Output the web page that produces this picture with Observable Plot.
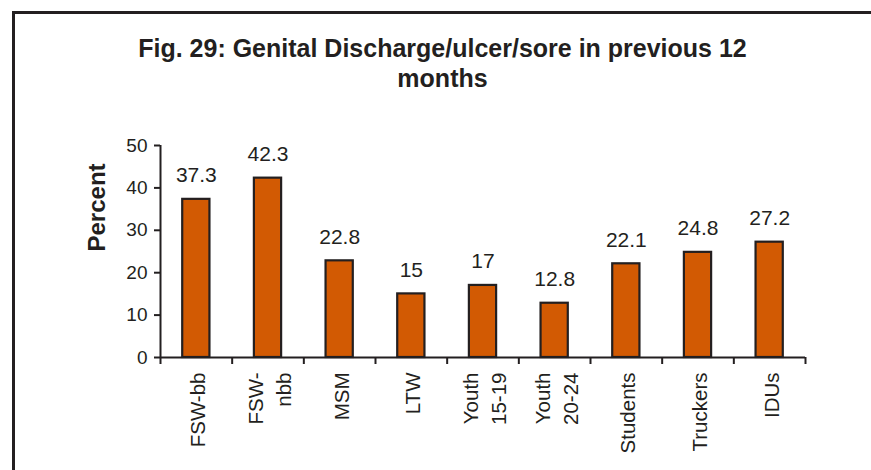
<!DOCTYPE html>
<html>
<head>
<meta charset="utf-8">
<script src="https://cdn.jsdelivr.net/npm/d3@7"></script>
<script src="https://cdn.jsdelivr.net/npm/@observablehq/plot@0.6"></script>
<style>
  html, body { margin: 0; padding: 0; background: #fff; }
  #wrap { position: relative; width: 871px; height: 470px; overflow: hidden; background: #fff; }
  #frame { position: absolute; left: 12px; top: 11px; width: 900px; height: 500px;
           border-left: 3px solid #231f20; border-top: 3px solid #231f20; }
  #title { position: absolute; left: 14px; right: 0; top: 33px; text-align: center;
           font-family: "Liberation Sans", Arial, sans-serif; font-weight: bold;
           font-size: 25px; line-height: 30px; color: #231f20; }
  #chart { position: absolute; left: 0; top: 0; }
</style>
</head>
<body>
<div id="wrap">
  <div id="frame"></div>
  <div id="chart"></div>
  <div id="title">Fig. 29: Genital Discharge/ulcer/sore in previous 12<br>months</div>
</div>
<script>
const categories = ["FSW-bb", "FSW-\nnbb", "MSM", "LTW", "Youth\n15-19", "Youth\n20-24", "Students", "Truckers", "IDUs"];
const values = [37.3, 42.3, 22.8, 15, 17, 12.8, 22.1, 24.8, 27.2];
const valueLabels = ["37.3", "42.3", "22.8", "15", "17", "12.8", "22.1", "24.8", "27.2"];
const yTicks = [0, 10, 20, 30, 40, 50];
const yTitle = "Percent";

const data = categories.map((c, i) => ({i, category: c, value: values[i], label: valueLabels[i]}));
const boundaries = d3.range(categories.length + 1);

const ink = "#231f20";
const barFill = "#D25A03";

const chart = Plot.plot({
  width: 871,
  height: 470,
  marginLeft: 160,
  marginRight: 66,
  marginTop: 145,
  marginBottom: 113,
  style: {fontFamily: "'Liberation Sans', Arial, sans-serif", fontSize: "19px", color: ink, background: "transparent", overflow: "visible"},
  x: {domain: [0, categories.length], axis: null},
  y: {domain: [0, 50], axis: null},
  marks: [
    Plot.rectY(data, {x1: d => d.i + 0.31, x2: d => d.i + 0.69, y: "value", fill: barFill, stroke: ink, strokeWidth: 2.2}),
    Plot.ruleY([0], {stroke: ink, strokeWidth: 2}),
    Plot.ruleX([0], {stroke: ink, strokeWidth: 2}),
    Plot.axisY(yTicks, {label: null, tickSize: 6, tickPadding: 7, fontSize: 19, stroke: ink, strokeWidth: 2, fill: ink}),
    Plot.axisX(boundaries, {label: null, tickSize: 7, tickFormat: () => "", stroke: ink, strokeWidth: 2}),
    Plot.text(data, {x: d => d.i + 0.5, y: "value", text: "label", dy: -24, fontSize: 21, fill: ink}),
    Plot.text(data, {x: d => d.i + 0.5, text: "category", frameAnchor: "bottom", dy: 15, rotate: -90,
                     textAnchor: "end", lineAnchor: "middle", lineHeight: 1.37, fontSize: 20.5, fill: ink}),
    Plot.text([yTitle], {frameAnchor: "left", dx: -63, rotate: -90, fontSize: 24, fontWeight: "bold", fill: ink})
  ]
});
document.getElementById("chart").appendChild(chart);
</script>
</body>
</html>
